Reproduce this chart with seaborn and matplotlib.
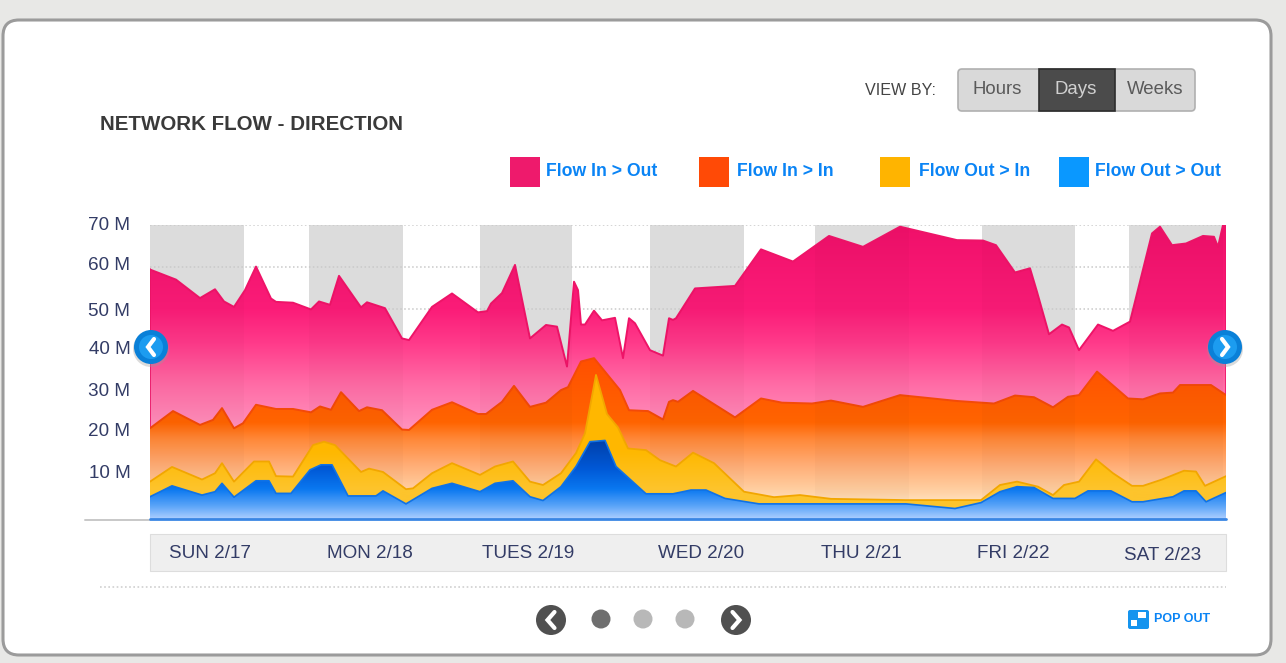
import numpy as np
import matplotlib
matplotlib.use("Agg")
import matplotlib.pyplot as plt
import seaborn as sns
from matplotlib.colors import LinearSegmentedColormap
from matplotlib.patches import FancyBboxPatch, Polygon, Rectangle, Circle
from matplotlib.transforms import ScaledTranslation

# time is in samples: 1076 samples make up the week shown
t_in_out = [0,26,50,65,74,84,95,106,121,126,143,161,169,180,189,211,217,235,252,259,282,302,328,337,341,352,365,380,396,407,417,424,428,431,435,444,452,465,473,479,485,500,513,519,523,526,545,585,611,643,679,713,750,807,833,846,865,880,887,899,912,919,929,948,963,980,1002,1010,1022,1036,1053,1064,1068,1073,1076]
flow_in_out = [59.4,57.0,52.6,54.7,51.8,50.5,54.5,60.1,52.5,51.7,51.5,49.9,51.8,51.0,57.9,50.4,51.6,50.2,43.0,42.6,50.5,53.7,49.2,49.5,51.3,53.8,60.5,43.0,46.2,45.8,36.3,56.5,54.5,46.3,46.3,49.6,47.3,47.9,38.3,47.8,46.6,40.2,38.9,47.8,47.4,47.8,54.9,55.5,64.2,61.3,67.4,64.8,69.6,66.4,66.3,65.2,58.7,59.7,54.1,44.0,46.3,45.6,40.2,46.3,44.8,47.0,68.0,69.6,65.2,65.6,67.4,67.2,64.8,70.0,70.0]

t_in_in = [0,23,50,63,72,84,93,106,126,143,161,170,181,191,209,217,232,252,259,282,302,328,336,352,364,380,396,411,418,431,444,470,479,498,513,519,523,528,543,585,611,632,662,681,713,750,807,844,865,884,903,918,929,947,978,993,1010,1023,1030,1061,1076]
flow_in_in = [21.6,25.7,22.4,23.6,26.4,21.6,22.8,27.2,26.2,26.2,25.4,26.8,26.0,30.2,25.7,26.6,25.9,21.3,21.2,26.0,27.8,25.0,25.0,27.9,31.7,26.7,27.7,30.7,31.4,37.5,38.3,30.7,25.9,25.7,23.7,27.9,28.3,27.9,30.5,24.2,28.7,27.7,27.5,28.2,26.7,29.5,28.1,27.5,29.4,29.0,26.6,29.1,29.5,35.1,28.7,28.5,29.9,30.1,31.9,31.9,29.5]

t_out_in = [0,22,52,65,72,84,104,119,126,143,163,174,185,211,219,233,256,263,282,302,330,345,363,380,393,411,426,435,446,457,468,478,496,510,526,543,564,594,624,650,681,756,831,850,867,888,903,914,929,946,963,982,993,1012,1034,1046,1055,1076]
flow_out_in = [8.9,12.4,9.4,10.9,13.3,8.9,13.7,13.7,10.2,10.1,17.6,18.4,17.6,11.2,12.0,11.2,7.1,7.3,10.9,13.3,10.5,12.5,13.7,8.9,8.1,10.9,15.7,20.4,34.3,25.0,21.8,16.8,16.4,14.0,12.5,15.8,13.3,6.5,5.2,5.7,4.8,4.5,4.5,8.1,8.9,7.7,5.7,8.1,8.9,14.2,10.9,7.9,7.9,9.4,11.5,11.3,7.9,10.2]

t_out_out = [0,22,52,65,72,84,106,119,126,141,160,171,182,198,226,233,256,282,302,330,345,363,380,393,411,426,440,455,466,496,510,523,541,556,575,609,756,805,831,850,867,884,903,925,938,961,982,993,1023,1034,1046,1056,1076]
flow_out_out = [5.3,7.9,5.7,6.5,8.5,5.2,9.1,9.1,6.1,6.1,11.7,12.9,12.9,5.5,5.5,6.7,3.6,7.3,8.5,6.5,8.5,9.1,5.3,4.4,7.7,12.5,18.4,18.7,12.5,6.0,6.0,6.0,6.9,6.9,4.9,3.6,3.6,2.5,3.9,6.5,7.7,7.5,4.9,4.9,6.7,6.7,4.1,4.1,5.3,6.7,6.7,4.1,6.3]

night_start = [0,159,330,500,665,832,979]
night_end = [94,253,422,594,759,925,1073]

y_ticks = [10,20,30,40,50,60,70]
y_labels = ["10 M","20 M","30 M","40 M","50 M","60 M","70 M"]
y_label_nudge_px = [6,5,4,4,0,3,1]
day_ticks = [60,220,378,551,711,863,1013]
day_labels = ["SUN 2/17","MON 2/18","TUES 2/19","WED 2/20","THU 2/21","FRI 2/22","SAT 2/23"]
legend_names = ["Flow In > Out","Flow In > In","Flow Out > In","Flow Out > Out"]
legend_colors = ["#ee1a6c","#ff4a06","#ffb400","#0a98ff"]
view_by = ["Hours","Days","Weeks"]

sns.set_theme(style="white")
plt.rcParams["font.family"] = ["Liberation Sans", "DejaVu Sans"]

W, H = 1286, 663
fig = plt.figure(figsize=(W/100, H/100), dpi=100, facecolor="#e8e8e6")

# ---------- panel furniture, in pixel coordinates
bg = fig.add_axes([0, 0, 1, 1], zorder=0)
bg.set_xlim(0, W); bg.set_ylim(H, 0); bg.axis("off")
bg.add_patch(FancyBboxPatch((3, 20), 1268, 635, boxstyle="round,pad=0,rounding_size=16",
                            fc="white", ec="#9b9b9b", lw=2.2, mutation_aspect=1))
bg.text(100, 125, "NETWORK FLOW - DIRECTION", fontsize=14.8, fontweight="bold", color="#3a3a3a", va="center", ha="left")
bg.text(865, 90.5, "VIEW BY:", fontsize=11.6, color="#444444", va="center", ha="left")
bg.add_patch(FancyBboxPatch((958, 69), 237, 42, boxstyle="round,pad=0,rounding_size=4",
                            fc="#d9d9d9", ec="#b0b0b0", lw=1.2))
bg.add_patch(Rectangle((1039, 69), 76, 42, fc="#4b4b4b", ec="#2d2d2d", lw=1.2))
for name, cx, col in zip(view_by, [997, 1076, 1155], ["#5a5a5a", "#d0d0d0", "#5a5a5a"]):
    bg.text(cx, 89.5, name, fontsize=13.4, color=col, va="center", ha="center")
for name, col, sx, tx in zip(legend_names, legend_colors, [510, 699, 880, 1059], [546, 737, 919, 1095]):
    bg.add_patch(Rectangle((sx, 157), 30, 30, fc=col, ec="none"))
    bg.text(tx, 171, name, fontsize=12.7, fontweight="bold", color="#0a84f5", va="center", ha="left")
bg.add_patch(Rectangle((150, 534), 1076, 37, fc="#efefef", ec="#dddddd", lw=0.8))
bg.plot([85, 150], [519.5, 519.5], color="#c8c8c8", lw=1.4)
bg.plot([100, 1226], [587, 587], color="#cfcfcf", lw=1.2, ls=(0, (1, 1.5)))

# ---------- chart
ax = fig.add_axes([150/W, 1-519/H, 1076/W, 294/H], zorder=1)
ax.patch.set_alpha(0)
for s in ax.spines.values():
    s.set_visible(False)


def gradient(stops):
    top = 70.0
    return LinearSegmentedColormap.from_list("g", [(1 - v/top, c) for v, c in stops])


def area(t, v, stops, edge, lw, z):
    cmap = gradient(stops)
    col = np.linspace(0, 1, 512).reshape(-1, 1)
    im = ax.imshow(col, cmap=cmap, vmin=0, vmax=1, aspect="auto", origin="upper",
                   extent=[0, 1076, 0, 70], zorder=z, interpolation="bilinear")
    pts = np.column_stack([[t[0]] + list(t) + [t[-1]], [0] + list(v) + [0]])
    poly = Polygon(pts, closed=True, transform=ax.transData, fc="none", ec="none")
    ax.add_patch(poly)
    im.set_clip_path(poly)
    sns.lineplot(x=t, y=v, ax=ax, color=edge, lw=lw, zorder=z + 0.1, estimator=None, legend=False)
    return poly


for a, b in zip(night_start, night_end):
    ax.axvspan(a, b, ymin=0, ymax=1.004, fc="#dcdcdc", ec="none", zorder=1)
ax.set_yticks(y_ticks)
for yv in y_ticks:
    ax.axhline(yv, color="#c9c9c9", lw=1.1, ls=(0, (1, 1.6)), zorder=1.5)

pink_poly = area(t_in_out, flow_in_out,
                 [(70, "#f0106a"), (50, "#fb1c78"), (42, "#ff3a8a"), (32, "#ff6ca6"), (22, "#ff90bc"), (0, "#ff90bc")],
                 "#ee1468", 1.4, 2)
orange_poly = area(t_in_in, flow_in_in,
                   [(70, "#ff5000"), (38, "#ff5000"), (23, "#ff6400"), (19, "#ff8838"), (13, "#ffac74"), (6, "#ffd4a8"), (1.5, "#fff2dc"), (0, "#fff2dc")],
                   "#f44a08", 1.4, 3)
# the night bands show faintly through the pink and orange fills
for a, b in zip(night_start, night_end):
    r = ax.axvspan(a, b, fc="black", alpha=0.02, ec="none", zorder=3.5)
    r.set_clip_path(pink_poly)

area(t_out_in, flow_out_in,
     [(70, "#ffb400"), (16, "#ffb800"), (7, "#fdc42c"), (0, "#fdc42c")], "#f2a600", 1.3, 4)
area(t_out_out, flow_out_out,
     [(70, "#003fa8"), (19, "#003fa8"), (12, "#0058d6"), (7, "#0a78f0"), (3, "#5aa4f8"), (0, "#aacdff")],
     "#0f72e6", 1.2, 5)
ax.axhline(0, color="#3a86e4", lw=2, zorder=6, clip_on=False)
ax.axvline(1076, color="#ee1468", lw=1.2, ymin=0.42, ymax=1, zorder=2.5)
ax.axvline(0, color="#ee1468", lw=1.2, ymin=0.3, ymax=0.85, zorder=2.5)

ax.set_xlim(0, 1076)
ax.set_ylim(0, 70)
ax.set_xlabel(""); ax.set_ylabel("")
ax.set_xticks(day_ticks)
ax.set_xticklabels(day_labels, fontsize=13.6, color="#333c66")
ax.tick_params(axis="x", length=0, pad=18.6)
ax.set_yticks(y_ticks)
ax.set_yticklabels(y_labels, fontsize=13.6, color="#333c66")
ax.tick_params(axis="y", length=0, pad=14.2)
for lab, dy in zip(ax.get_yticklabels(), y_label_nudge_px):
    lab.set_transform(lab.get_transform() + ScaledTranslation(0, dy/100, fig.dpi_scale_trans))
ax.get_xticklabels()[-1].set_transform(ax.get_xticklabels()[-1].get_transform()
                                       + ScaledTranslation(0, -2/100, fig.dpi_scale_trans))

# ---------- controls on top
fr = fig.add_axes([0, 0, 1, 1], zorder=3)
fr.set_xlim(0, W); fr.set_ylim(H, 0); fr.axis("off"); fr.patch.set_alpha(0)

for cx, d in [(151, -1), (1225, 1)]:
    fr.add_patch(Circle((cx, 349), 18, fc="#9a9a9a", ec="none", alpha=0.35))
    fr.add_patch(Circle((cx, 347), 17, fc="#0a80d8", ec="none"))
    fr.add_patch(Circle((cx, 347), 12, fc="#1c9cf0", ec="none"))
    fr.plot([cx + d*-3, cx + d*3, cx + d*-3], [339, 347, 355], color="white", lw=3,
            solid_joinstyle="miter", zorder=5)
for cx, d in [(551, -1), (736, 1)]:
    fr.add_patch(Circle((cx, 620), 15, fc="#505050", ec="none"))
    fr.plot([cx + d*-3.5, cx + d*3.5, cx + d*-3.5], [612, 620, 628], color="white", lw=3,
            solid_joinstyle="miter", zorder=5)
for cx, col in [(601, "#6f6f6f"), (643, "#b8b8b8"), (685, "#b8b8b8")]:
    fr.add_patch(Circle((cx, 619), 9.5, fc=col, ec="none"))
fr.add_patch(FancyBboxPatch((1128, 610), 21, 19, boxstyle="round,pad=0,rounding_size=2", fc="#1594ee", ec="none"))
fr.add_patch(Rectangle((1138, 612), 8, 6, fc="white", ec="none"))
fr.add_patch(Rectangle((1131, 620), 6, 6, fc="white", ec="none"))
fr.text(1154, 619.5, "POP OUT", fontsize=9, fontweight="bold", color="#0a84f5", va="center", ha="left")

fig.savefig("out.png", dpi=100, facecolor=fig.get_facecolor())
